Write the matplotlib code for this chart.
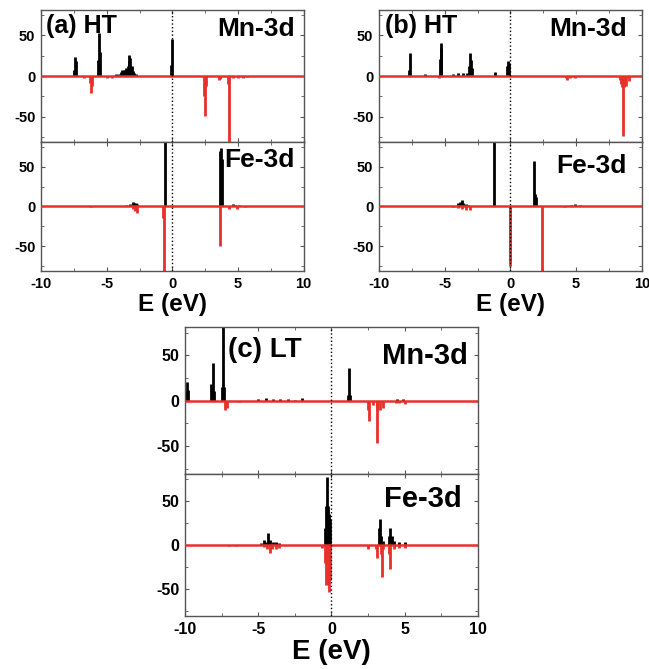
import numpy as np
import matplotlib.pyplot as plt

plt.rcParams['font.family'] = ['Liberation Sans', 'DejaVu Sans']
plt.rcParams['font.weight'] = 'bold'
plt.rcParams['axes.unicode_minus'] = False

RED = '#e8302a'

# (a) HT
a_mn_up_E = [-7.5, -7.42, -7.35, -5.65, -5.58, -5.52, -4.3, -4.1, -3.9, -3.8, -3.7, -3.6, -3.5,
             -3.4, -3.32, -3.27, -3.2, -3.1, -3.0, -2.9, -2.8, -0.1, -0.04]
a_mn_up_D = [8, 23, 18, 20, 53, 30, 2, 3, 5, 7, 8, 8, 10, 12, 18, 26, 22, 12, 6, 4, 2, 13, 45]
a_mn_dn_E = [-6.7, -6.3, -6.22, -6.15, -5.0, -4.6, 2.4, 2.47, 2.55, 3.55, 3.62, 4.2, 4.3, 4.6, 5.0, 5.4, 5.7]
a_mn_dn_D = [-2, -8, -21, -12, -2, -3, -25, -49, -12, -5, -4, -10, -85, -3, -2, -3, -1]
a_fe_up_E = [-3.9, -3.5, -3.2, -3.0, -2.9, -2.8, -2.7, -0.58, 3.62, 3.7, 3.78, 4.6, 4.8, 5.1]
a_fe_up_D = [1, 2, 3, 6, 5, 4, 3, 85, 70, 74, 60, 3, 2, 2]
a_fe_dn_E = [-6.2, -3.0, -2.85, -2.72, -0.7, -0.63, 3.6, 4.3, 4.9, 5.5]
a_fe_dn_D = [-1, -3, -6, -8, -15, -85, -50, -3, -3, -1]

# (b) HT
b_mn_up_E = [-7.7, -7.65, -6.5, -5.38, -5.3, -5.25, -4.4, -4.0, -3.6, -3.3, -3.15, -3.08, -3.0,
             -2.9, -1.18, -0.25, -0.17, -0.1]
b_mn_up_D = [8, 28, 2, 21, 41, 35, 2, 4, 4, 4, 12, 28, 20, 10, 5, 12, 18, 16]
b_mn_dn_E = [-5.4, 4.2, 4.28, 4.5, 4.9, 8.3, 8.4, 8.5, 8.56, 8.65, 8.8, 9.0]
b_mn_dn_D = [-2, -3, -5, -3, -2, -5, -10, -14, -73, -14, -12, -6]
b_fe_up_E = [-4.3, -4.0, -3.85, -3.72, -3.6, -3.4, -3.2, -1.23, 1.79, 1.86, 1.92, 4.6, 4.9, 5.3]
b_fe_up_D = [1, 4, 6, 8, 4, 3, 2, 85, 57, 16, 12, 2, 3, 2]
b_fe_dn_E = [-4.4, -4.0, -3.7, -3.4, -3.1, -0.06, -0.02, 2.41, 4.1]
b_fe_dn_D = [-1, -2, -3, -4, -4, -75, -70, -85, -1]

# (c) LT
c_mn_up_E = [-9.9, -9.85, -9.78, -8.2, -8.12, -8.05, -7.45, -7.39, -7.33, -5.0, -4.5, -4.0, -3.5,
             -3.0, -2.5, -2.0, 1.1, 1.18, 1.25, 4.5, 4.9]
c_mn_up_D = [10, 21, 12, 18, 41, 10, 15, 85, 15, 2, 3, 2, 2, 2, 1, 3, 6, 36, 6, 2, 2]
c_mn_dn_E = [-7.25, -7.15, -6.3, 2.5, 2.57, 2.8, 3.08, 3.14, 3.3, 3.5, 4.4, 4.6, 5.0, 5.5, 6.0]
c_mn_dn_D = [-10, -8, -2, -10, -23, -5, -10, -47, -10, -8, -3, -3, -4, -1, -1]
c_fe_up_E = [-4.8, -4.6, -4.45, -4.32, -4.2, -4.0, -3.8, -3.6, -0.45, -0.36, -0.3, -0.24, -0.18,
             -0.1, 3.25, 3.3, 3.4, 3.5, 3.92, 3.98, 4.1, 4.3, 4.6, 5.0]
c_fe_up_D = [2, 6, 4, 14, 6, 3, 3, 2, 20, 45, 77, 45, 35, 30, 20, 30, 10, 5, 10, 20, 10, 5, 4, 3]
c_fe_dn_E = [-7.0, -6.5, -4.6, -4.4, -4.2, -4.05, -3.8, -3.6, -0.65, -0.45, -0.35, -0.25, -0.18,
             -0.1, 2.5, 3.05, 3.11, 3.35, 3.45, 3.55, 3.95, 4.02, 4.3, 4.6, 5.0]
c_fe_dn_D = [-1, -1, -2, -5, -9, -4, -5, -3, -3, -20, -45, -45, -54, -40, -5, -5, -15, -10, -36,
             -5, -10, -27, -5, -3, -3]

panel_titles = ['(a) HT', '(b) HT', '(c) LT']
xticks = [-10, -5, 0, 5, 10]
yticks = [-50, 0, 50]

fig = plt.figure(figsize=(6.49, 6.69), dpi=100)

# [left, right, top, mid, bottom] in figure fraction
boxes = [
    [0.0632, 0.468, 0.985, 0.7877, 0.595],
    [0.584, 0.989, 0.985, 0.7877, 0.595],
    [0.285, 0.7365, 0.511, 0.2915, 0.079],
]
data = [
    (a_mn_up_E, a_mn_up_D, a_mn_dn_E, a_mn_dn_D, a_fe_up_E, a_fe_up_D, a_fe_dn_E, a_fe_dn_D),
    (b_mn_up_E, b_mn_up_D, b_mn_dn_E, b_mn_dn_D, b_fe_up_E, b_fe_up_D, b_fe_dn_E, b_fe_dn_D),
    (c_mn_up_E, c_mn_up_D, c_mn_dn_E, c_mn_dn_D, c_fe_up_E, c_fe_up_D, c_fe_dn_E, c_fe_dn_D),
]
# label positions (axes fraction): title x, title y, Mn x, Mn y, Fe x, Fe y
lab_pos = [
    (0.02, 0.97, 0.966, 0.95, 0.966, 0.955),
    (0.023, 0.97, 0.943, 0.95, 0.943, 0.91),
    (0.147, 0.93, 0.966, 0.9, 0.945, 0.92),
]
# font sizes: ticks, title, Mn/Fe labels, xlabel
sizes = [(10.5, 18, 19, 17.5), (10.5, 18, 19, 17.5), (11.5, 20, 21, 20)]

def draw(ax, upE, upD, dnE, dnD, tsize):
    ax.vlines(upE, 0, upD, color='black', lw=2.0, zorder=2)
    ax.vlines(dnE, 0, dnD, color=RED, lw=2.0, zorder=3)
    ax.axhline(0, color=RED, lw=1.8, zorder=4)
    ax.axvline(0, color='black', ls=':', lw=1.0, zorder=5)
    ax.set_xlim(-10, 10)
    ax.set_ylim(-81, 81)
    ax.set_yticks(yticks)
    ax.set_yticks([-75, -25, 25, 75], minor=True)
    ax.set_xticks(xticks)
    ax.set_xticks([-7.5, -2.5, 2.5, 7.5], minor=True)
    ax.tick_params(which='both', direction='in', top=True, right=True, labelsize=tsize,
                   color='#555555')
    ax.tick_params(which='major', length=3, pad=4)
    ax.tick_params(which='minor', length=2)
    for s in ax.spines.values():
        s.set_color('#555555')
        s.set_linewidth(1.0)
    for lbl in ax.get_yticklabels():
        lbl.set_fontweight('bold')

for i in range(3):
    l, r, t, m, b = boxes[i]
    ts, fs_title, fs_lab, fs_x = sizes[i]
    ax1 = fig.add_axes([l, m, r - l, t - m])
    ax2 = fig.add_axes([l, b, r - l, m - b])
    d = data[i]
    draw(ax1, d[0], d[1], d[2], d[3], ts)
    draw(ax2, d[4], d[5], d[6], d[7], ts)
    ax1.tick_params(labelbottom=False)
    for lbl in ax2.get_xticklabels():
        lbl.set_fontweight('bold')
    ax2.set_xlabel('E (eV)', fontsize=fs_x, fontweight='bold', labelpad=2)
    tx, ty, mx, my, fx, fy = lab_pos[i]
    ax1.text(tx, ty, panel_titles[i], transform=ax1.transAxes, ha='left', va='top',
             fontsize=fs_title, fontweight='bold')
    ax1.text(mx, my, 'Mn-3d', transform=ax1.transAxes, ha='right', va='top',
             fontsize=fs_lab, fontweight='bold')
    ax2.text(fx, fy, 'Fe-3d', transform=ax2.transAxes, ha='right', va='top',
             fontsize=fs_lab, fontweight='bold')

fig.savefig('out.png', dpi=100)
